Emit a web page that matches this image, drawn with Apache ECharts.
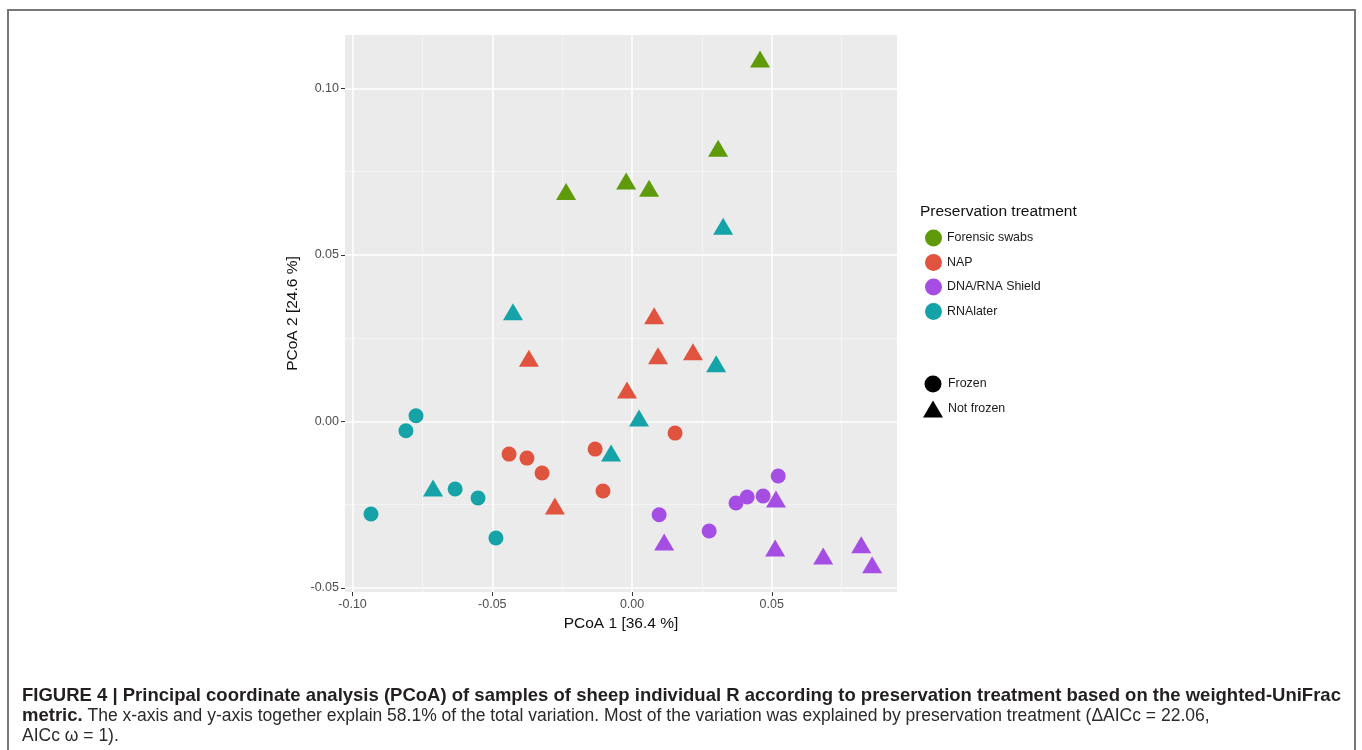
<!DOCTYPE html>
<html style="height: 100%">
<head>
    <meta charset="utf-8">
    <title>PCoA weighted-UniFrac</title>
    <script src="https://cdn.jsdelivr.net/npm/echarts/dist/echarts.min.js"></script>
</head>
<body style="height: 100%; margin: 0; background: #fff">
    <div id="main" style="width: 1362px; height: 750px"></div>
    <script type="text/javascript">
        // points per treatment, split by frozen / not frozen  [PCoA 1, PCoA 2]
        var swabsFrozen = [];
        var swabsNotFrozen = [[0.0458, 0.1088], [0.0308, 0.0820], [-0.0021, 0.0722], [0.0061, 0.0700], [-0.0236, 0.0690]];
        var napFrozen = [[-0.0440, -0.0098], [-0.0376, -0.0110], [-0.0322, -0.0155], [-0.0132, -0.0083], [-0.0104, -0.0209], [0.0154, -0.0035]];
        var napNotFrozen = [[0.0079, 0.0317], [0.0093, 0.0197], [0.0218, 0.0209], [-0.0369, 0.0190], [-0.0018, 0.0094], [-0.0276, -0.0254]];
        var shieldFrozen = [[0.0523, -0.0164], [0.0372, -0.0245], [0.0412, -0.0227], [0.0469, -0.0224], [0.0097, -0.0280], [0.0276, -0.0329]];
        var shieldNotFrozen = [[0.0515, -0.0233], [0.0115, -0.0362], [0.0512, -0.0380], [0.0684, -0.0404], [0.0820, -0.0370], [0.0859, -0.0430]];
        var rnaFrozen = [[-0.0773, 0.0017], [-0.0809, -0.0028], [-0.0934, -0.0278], [-0.0633, -0.0203], [-0.0551, -0.0230], [-0.0487, -0.0350]];
        var rnaNotFrozen = [[0.0326, 0.0586], [-0.0426, 0.0329], [0.0301, 0.0173], [0.0025, 0.0010], [-0.0075, -0.0095], [-0.0712, -0.0200]];

        var treatments = ['Forensic swabs', 'NAP', 'DNA/RNA Shield', 'RNAlater'];
        var colors = ['#5F9A0B', '#E0533E', '#A54EE3', '#16A3A7'];
        var frozenSets = [swabsFrozen, napFrozen, shieldFrozen, rnaFrozen];
        var notFrozenSets = [swabsNotFrozen, napNotFrozen, shieldNotFrozen, rnaNotFrozen];

        // axis ticks
        var xTicks = [-0.10, -0.05, 0.00, 0.05];
        var yTicks = [-0.05, 0.00, 0.05, 0.10];
        var xMinor = [-0.075, -0.025, 0.025, 0.075];
        var yMinor = [-0.025, 0.025, 0.075];
        var xRange = [-0.1027, 0.0948];
        var yRange = [-0.0512, 0.1160];

        var caption = [
            '{b|FIGURE 4 | Principal coordinate analysis (PCoA) of samples of sheep individual R according to preservation treatment based on the weighted-UniFrac}',
            '{b|metric.}{n| The x-axis and y-axis together explain 58.1% of the total variation. Most of the variation was explained by preservation treatment (\u0394AICc = 22.06,}',
            '{n|AICc \u03c9 = 1).}'
        ].join('\n');

        var font = '"Liberation Sans", Arial, sans-serif';
        var myChart = echarts.init(document.getElementById('main'));

        var series = treatments.map(function (name, i) {
            var pts = frozenSets[i].map(function (p) {
                return { value: p, symbol: 'circle', symbolSize: 15 };
            }).concat(notFrozenSets[i].map(function (p) {
                return { value: p, symbol: 'triangle', symbolSize: [20, 17] };
            }));
            return {
                name: name,
                type: 'scatter',
                data: pts,
                itemStyle: { color: colors[i], opacity: 1 },
                z: 3
            };
        });
        // shape-only legend entries
        series.push({ name: 'Frozen', type: 'scatter', data: [], itemStyle: { color: '#000000', opacity: 1 } });
        series.push({ name: 'Not frozen', type: 'scatter', data: [], itemStyle: { color: '#000000', opacity: 1 } });

        function valueAxis(min, max, pos, ticks, opts) {
            return Object.assign({
                type: 'value',
                min: min,
                max: max,
                position: pos,
                axisLine: { show: false, onZero: false },
                axisTick: { show: true, customValues: ticks, length: 4, lineStyle: { color: '#333', width: 1 } },
                axisLabel: {
                    customValues: ticks,
                    formatter: function (v) { return v.toFixed(2); },
                    color: '#4D4D4D', fontSize: 12.5, fontFamily: font, margin: 6
                },
                splitLine: { show: true, lineStyle: { color: '#FFFFFF', width: 1.5 } }
            }, opts || {});
        }

        function minorAxis(min, max, pos, ticks) {
            return {
                type: 'value',
                min: min,
                max: max,
                position: pos,
                axisLine: { show: false, onZero: false },
                axisTick: { show: false, customValues: ticks },
                axisLabel: { show: false, customValues: ticks },
                splitLine: { show: true, lineStyle: { color: '#F6F6F6', width: 0.8 } }
            };
        }

        var option = {
            animation: false,
            textStyle: { fontFamily: font },
            grid: {
                left: 345, top: 35, right: 465, bottom: 158,
                show: true, backgroundColor: '#EBEBEB', borderWidth: 0
            },
            xAxis: [
                valueAxis(xRange[0], xRange[1], 'bottom', xTicks, {
                    name: 'PCoA 1 [36.4 %]', nameLocation: 'middle', nameGap: 22,
                    nameTextStyle: { color: '#111', fontSize: 15.5, fontFamily: font }
                }),
                minorAxis(xRange[0], xRange[1], 'top', xMinor)
            ],
            yAxis: [
                valueAxis(yRange[0], yRange[1], 'left', yTicks, {
                    name: 'PCoA 2 [24.6 %]', nameLocation: 'middle', nameGap: 44,
                    nameTextStyle: { color: '#111', fontSize: 15.5, fontFamily: font }
                }),
                minorAxis(yRange[0], yRange[1], 'right', yMinor)
            ],
            legend: [
                {
                    data: treatments.map(function (t) { return { name: t, icon: 'circle' }; }),
                    orient: 'vertical', left: 925, top: 229.5, padding: 0,
                    itemWidth: 17, itemHeight: 17, itemGap: 7.5, selectedMode: false,
                    textStyle: { fontSize: 12.4, color: '#1A1A1A', fontFamily: font }
                },
                {
                    data: [
                        { name: 'Frozen', icon: 'circle' },
                        { name: 'Not frozen', icon: 'triangle' }
                    ],
                    orient: 'vertical', left: 923, top: 375.5, padding: 0,
                    itemWidth: 20, itemHeight: 17, itemGap: 8, selectedMode: false,
                    itemStyle: { color: '#000000', opacity: 1, borderWidth: 0 },
                    textStyle: { fontSize: 12.4, color: '#1A1A1A', fontFamily: font }
                }
            ],
            graphic: [
                {
                    type: 'rect', silent: true,
                    shape: { x: 8, y: 10, width: 1347, height: 800 },
                    style: { fill: null, stroke: '#777', lineWidth: 2 }
                },
                {
                    type: 'text', left: 920, top: 204,
                    style: { text: 'Preservation treatment', fontSize: 15.5, fill: '#111', fontFamily: font }
                },
                {
                    type: 'text', left: 22, top: 686,
                    style: {
                        text: caption,
                        rich: {
                            b: { fontWeight: 'bold', fontSize: 18.5, lineHeight: 20.5, fill: '#231F20', fontFamily: font },
                            n: { fontSize: 17.5, lineHeight: 20.5, fill: '#2B2B2B', fontFamily: font }
                        }
                    }
                }
            ],
            series: series
        };

        myChart.setOption(option);
    </script>
</body>
</html>
